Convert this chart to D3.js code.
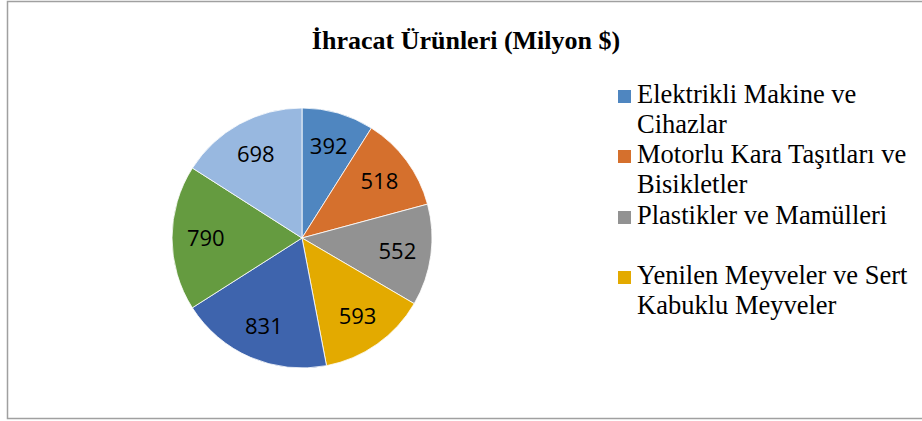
<!DOCTYPE html>
<html>
<head>
<meta charset="utf-8">
<script src="https://cdn.jsdelivr.net/npm/d3@7"></script>
<style>
  html, body { margin: 0; padding: 0; background: #fff; }
  svg { display: block; }
</style>
</head>
<body>
<svg id="chart" width="922" height="421"></svg>
<script>
// data, clockwise from 12 o'clock
const values = [392, 518, 552, 593, 831, 790, 698];
const colors = ["#4f86c0", "#d5702d", "#929292", "#e3aa00", "#3e64ad", "#659b40", "#98b8e0"];
// only the first four names are visible in the legend
const legendNames = [
  ["Elektrikli Makine ve", "Cihazlar"],
  ["Motorlu Kara Taşıtları ve", "Bisikletler"],
  ["Plastikler ve Mamülleri"],
  ["Yenilen Meyveler ve Sert", "Kabuklu Meyveler"]
];
const title = "İhracat Ürünleri (Milyon $)";

const svg = d3.select("#chart");
const W = 922, H = 421;

// chart frame
svg.append("rect")
  .attr("x", 7.5).attr("y", 1.5)
  .attr("width", W + 10).attr("height", 417)
  .attr("fill", "#fff")
  .attr("stroke", "#a0a0a0")
  .attr("stroke-width", 1.5);

svg.append("text")
  .attr("x", 466).attr("y", 49)
  .attr("text-anchor", "middle")
  .attr("font-family", "'Liberation Serif', 'Times New Roman', serif")
  .attr("font-weight", "bold")
  .attr("font-size", 26)
  .attr("fill", "#000")
  .text(title);

// pie
const cx = 302, cy = 238, r = 130;
const pie = d3.pie().sort(null).value(d => d);
const arcs = pie(values);
const arc = d3.arc().innerRadius(0).outerRadius(r);
const labelArc = d3.arc().innerRadius(r * 0.74).outerRadius(r * 0.74);

const g = svg.append("g").attr("transform", `translate(${cx},${cy})`);

g.selectAll("path")
  .data(arcs)
  .join("path")
  .attr("d", arc)
  .attr("fill", (d, i) => colors[i])
  .attr("stroke", "#fff")
  .attr("stroke-width", 0.8);

g.selectAll("text.lbl")
  .data(arcs)
  .join("text")
  .attr("class", "lbl")
  .attr("transform", d => `translate(${labelArc.centroid(d)})`)
  .attr("text-anchor", "middle")
  .attr("dy", "0.36em")
  .attr("font-family", "'Open Sans', 'Noto Sans', sans-serif")
  .attr("font-size", 22)
  .attr("fill", "#000")
  .text(d => d.data);

// legend
const legend = svg.append("g").attr("transform", "translate(618,0)");
const firstBase = [103, 163, 224, 284];
const item = legend.selectAll("g.item")
  .data(legendNames)
  .join("g")
  .attr("class", "item")
  .attr("transform", (d, i) => `translate(0,${firstBase[i]})`);

item.append("rect")
  .attr("x", 0).attr("y", -13)
  .attr("width", 13).attr("height", 13)
  .attr("fill", (d, i) => colors[i]);

item.append("text")
  .attr("font-family", "'Liberation Serif', 'Times New Roman', serif")
  .attr("font-size", 26.5)
  .attr("fill", "#000")
  .selectAll("tspan")
  .data(d => d)
  .join("tspan")
  .attr("x", 19)
  .attr("y", (d, j) => j * 30)
  .text(d => d);
</script>
</body>
</html>
